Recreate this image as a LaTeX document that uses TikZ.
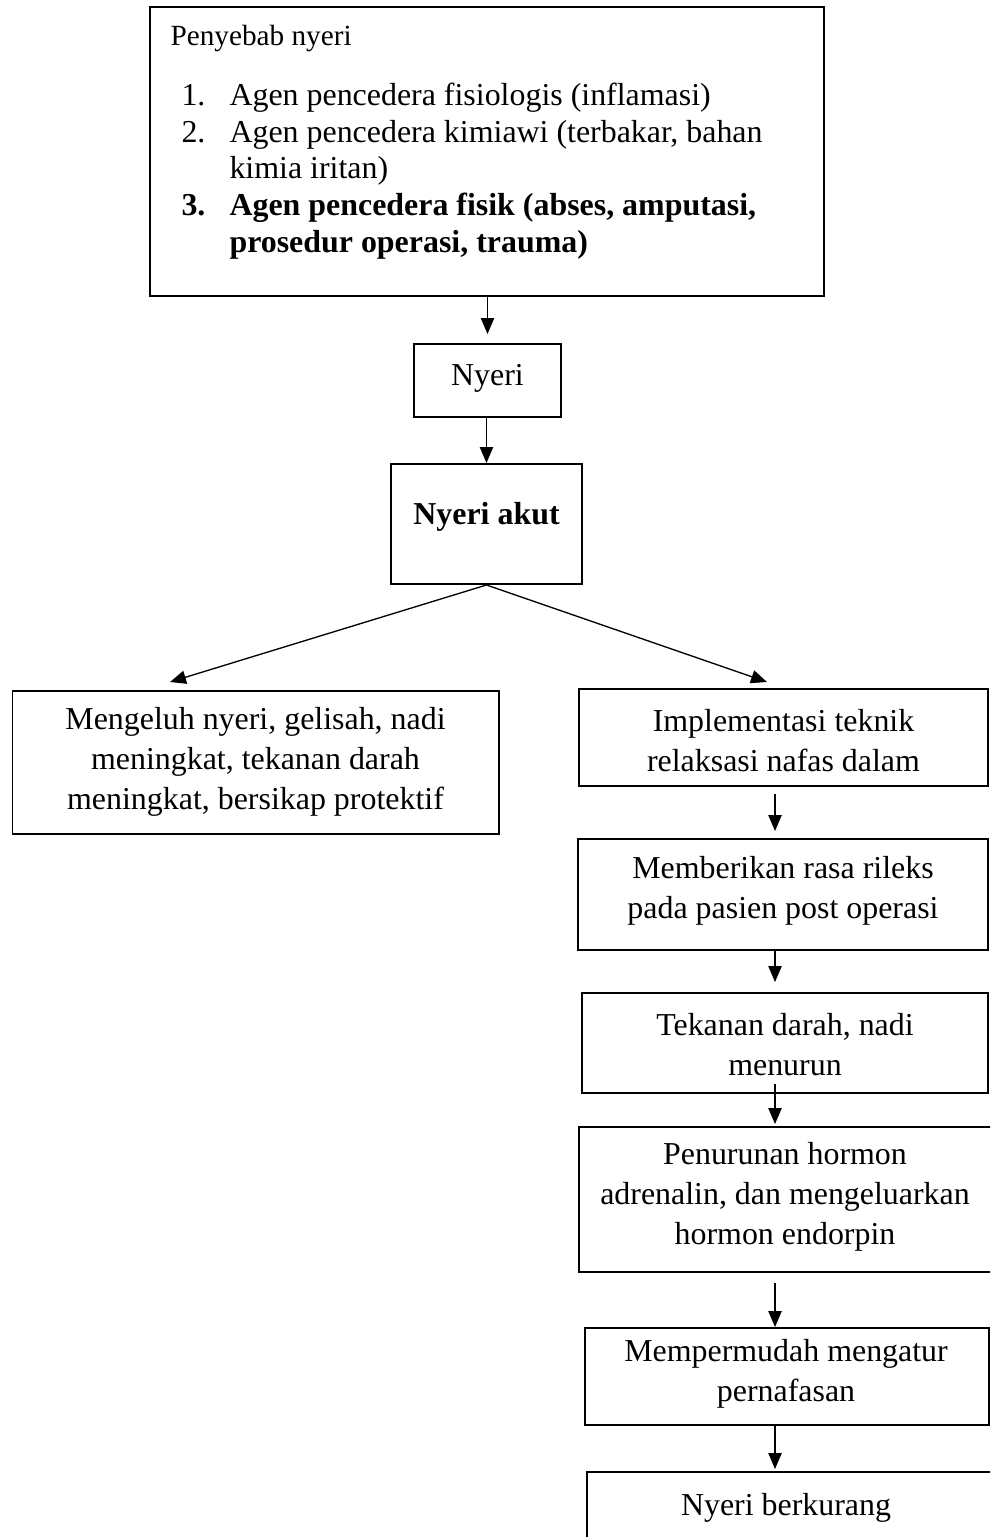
\documentclass[tikz,border=0pt]{standalone}
\usepackage{fontspec}
\setmainfont{Liberation Serif}
\usetikzlibrary{fit,calc,arrows.meta}
\tikzset{
  box/.style={draw,line width=0.75pt,inner sep=0pt,rectangle},
  txt/.style={align=center,font=\fontsize{12pt}{15pt}\selectfont,inner sep=0pt},
  lst/.style={anchor=base west,font=\fontsize{12pt}{14pt}\selectfont,inner sep=0pt},
  arr/.style={line width=0.5pt,-{Triangle[width=5pt,length=6pt]}}
}
\begin{document}
\begin{tikzpicture}[x=0.376pt,y=-0.376pt]
\useasboundingbox (0,0) rectangle (990,1537);
\clip (0,0) rectangle (990,1537);
% top box
\node[box,line width=1pt,fit={(150,7) (824,296)}] (top) {};
\node[anchor=base west,font=\fontsize{11pt}{13pt}\selectfont,inner sep=0pt] (t0) at (170,46) {Penyebab nyeri};
\node[lst] (n1) at (181,106) {1.};
\node[lst] (l1) at (229,106) {Agen pencedera fisiologis (inflamasi)};
\node[lst] (n2) at (181,142.5) {2.};
\node[lst] (l2) at (229,142.5) {Agen pencedera kimiawi (terbakar, bahan};
\node[lst] (l3) at (229,179) {kimia iritan)};
\node[lst,font=\fontsize{12pt}{14pt}\selectfont\bfseries] (n3) at (181,216) {3.};
\node[lst,font=\fontsize{12pt}{14pt}\selectfont\bfseries] (l4) at (229,216) {Agen pencedera fisik (abses, amputasi,};
\node[lst,font=\fontsize{12pt}{14pt}\selectfont\bfseries] (l5) at (229,252.5) {prosedur operasi, trauma)};
% Nyeri
\node[box,fit={(414,344) (561,417)}] (ny) {};
\node[txt] (tny) at (487.5,378) {Nyeri};
% Nyeri akut
\node[box,fit={(391,464) (582,584)}] (ak) {};
\node[txt,font=\fontsize{12pt}{15pt}\selectfont\bfseries] (tak) at (486.5,517) {Nyeri akut};
% left
\node[box,fit={(12.5,691) (499,834)}] (lb) {};
\node[txt] (tlb) at (255.5,762) {Mengeluh nyeri, gelisah, nadi\\meningkat, tekanan darah\\meningkat, bersikap protektif};
% right column
\node[box,fit={(579,689) (988,786)}] (b1) {};
\node[txt] (tb1) at (783.5,741) {Implementasi teknik\\relaksasi nafas dalam};
\node[box,fit={(578,839) (988,950)}] (b2) {};
\node[txt] (tb2) at (783,891) {Memberikan rasa rileks\\pada pasien post operasi};
\node[box,fit={(582,993) (988,1093)}] (b3) {};
\node[txt] (tb3) at (785,1045) {Tekanan darah, nadi\\menurun};
\node[box,fit={(579,1127) (995,1272)}] (b4) {};
\node[txt] (tb4) at (785,1197) {Penurunan hormon\\adrenalin, dan mengeluarkan\\hormon endorpin};
\node[box,fit={(585,1328) (988.5,1425)}] (b5) {};
\node[txt] (tb5) at (786,1374) {Mempermudah mengatur\\pernafasan};
\node[box,fit={(587,1472) (995,1546)}] (b6) {};
\node[txt] (tb6) at (786,1508) {Nyeri berkurang};
% connectors
\coordinate (colx) at (775,0);
\coordinate (ltip) at (170,682);
\coordinate (rtip) at (767,682);
\draw[arr] (top.south -| ny.north) -- ($(ny.north)+(0,-9)$);
\draw[arr] (ny.south -| ak.north) -- (ak.north);
\draw[arr] (ak.south) -- (ltip);
\draw[arr] (ak.south) -- (rtip);
\draw[arr] ($(b1.south -| colx)+(0,7)$) -- ($(b2.north -| colx)+(0,-7)$);
\draw[arr] (b2.south -| colx) -- ($(b3.north -| colx)+(0,-10)$);
\draw[arr] ($(b3.south -| colx)+(0,-10)$) -- ($(b4.north -| colx)+(0,-2)$);
\draw[arr] ($(b4.south -| colx)+(0,10)$) -- (b5.north -| colx);
\draw[arr] (b5.south -| colx) -- ($(b6.north -| colx)+(0,-2)$);
\end{tikzpicture}
\end{document}
